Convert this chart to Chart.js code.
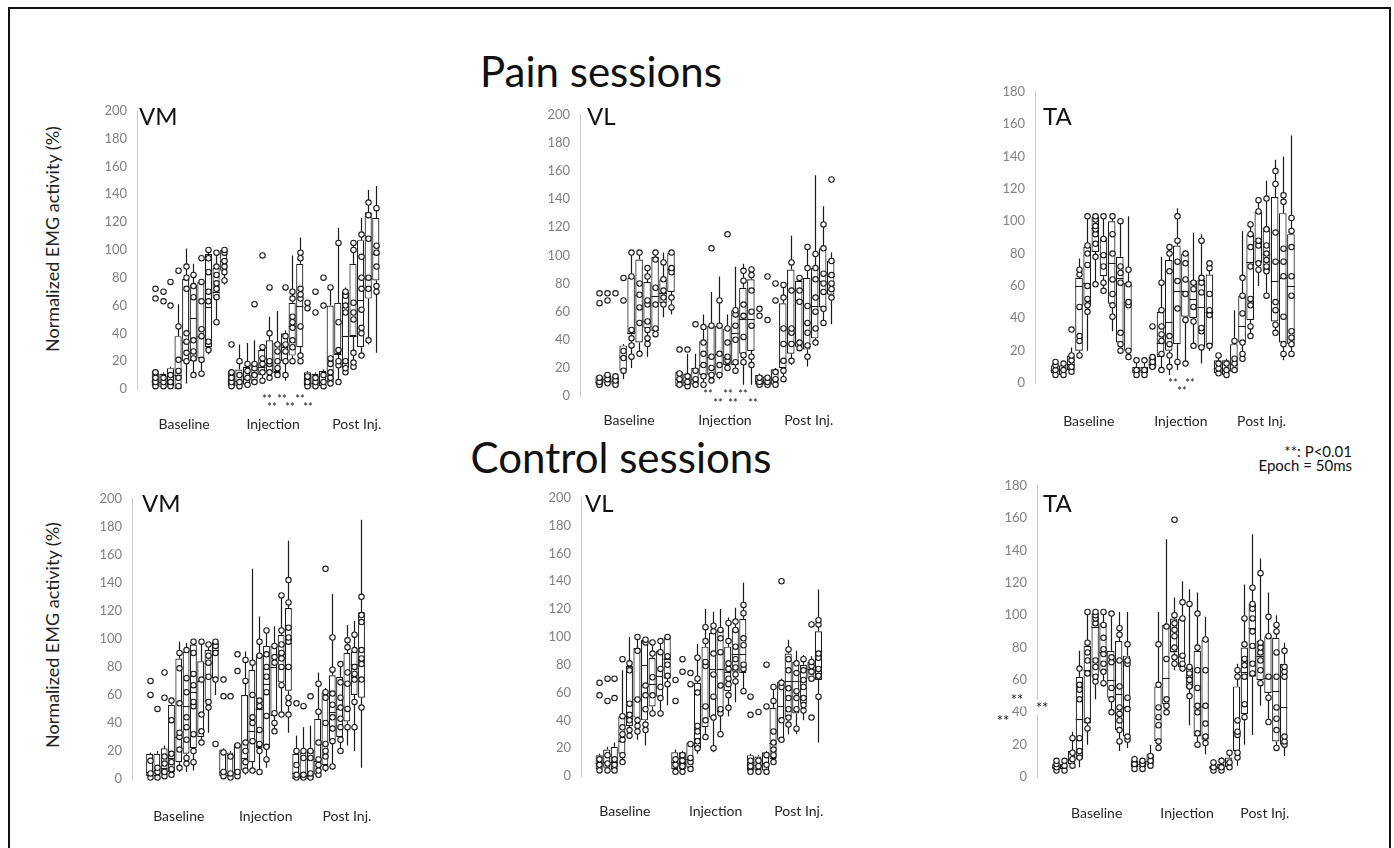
<!DOCTYPE html>
<html>
<head>
<meta charset="utf-8">
<script src="https://cdn.jsdelivr.net/npm/chart.js@4.4.0/dist/chart.umd.min.js"></script>
<style>
  body { margin: 0; width: 1394px; height: 848px; overflow: hidden; background: #fff; font-family: Lato, "Open Sans", sans-serif; }
  #frame { position: absolute; left: 8px; top: 7px; width: 1379px; height: 870px; border: 2px solid #111; }
  canvas { position: absolute; }
  .txt { position: absolute; white-space: nowrap; color: #111; line-height: 1; }
  .title { font-size: 42px; text-align: center; }
  .muscle { font-size: 24px; }
  .ytitle { font-size: 18px; transform: translate(-50%, -50%) rotate(-90deg); color: #222; }
  .stars { font-size: 11px; transform: translate(-50%, -50%); }
  .bigstars { font-size: 15px; transform: translate(-50%, -50%); background: #fff; }
  .note { font-size: 15px; text-align: right; right: 42px; }
</style>
</head>
<body>
<div id="frame"></div>

<div class="txt title" style="left:0;width:1202px;top:50px">Pain sessions</div>
<div class="txt title" style="left:0;width:1242px;top:436px">Control sessions</div>

<div class="txt ytitle" style="left:52px;top:239px">Normalized EMG activity (%)</div>
<div class="txt ytitle" style="left:52px;top:635px">Normalized EMG activity (%)</div>

<div class="txt note" style="top:444px">**: P&lt;0.01</div>
<div class="txt note" style="top:458px">Epoch = 50ms</div>

<canvas id="painVM"></canvas>
<canvas id="painVL"></canvas>
<canvas id="painTA"></canvas>
<canvas id="ctrlVM"></canvas>
<canvas id="ctrlVL"></canvas>
<canvas id="ctrlTA"></canvas>

<div class="txt muscle" style="left:139px;top:104px">VM</div>
<div class="txt muscle" style="left:587px;top:104px">VL</div>
<div class="txt muscle" style="left:1043px;top:104px">TA</div>
<div class="txt muscle" style="left:142px;top:491px">VM</div>
<div class="txt muscle" style="left:585px;top:491px">VL</div>
<div class="txt muscle" style="left:1043px;top:491px">TA</div>

<script>
// 30 boxes per panel: Baseline epochs 1-10, Injection 1-10, Post Inj. 1-10
const groupNames = ['Baseline', 'Injection', 'Post Inj.'];

// ---- Pain sessions, VM ----
const painVM_low  = [1,1,1,0,4,9,11,25,48,75, 1,1,2,3,5,7,8,6,19,18, 1,1,1,3,5,11,15,24,32,26];
const painVM_q1   = [2,1,2,0,20,20,22,30,65,85, 2,2,3,4,10,12,12,20,24,30, 2,1,2,5,25,15,38,30,65,78];
const painVM_med  = [6,5,6,10,34,51,38,59,70,92, 6,6,7,10,16,17,12,30,45,60, 5,4,5,12,25,38,38,64,80,97];
const painVM_q3   = [13,11,15,38,79,75,77,97,87,100, 13,14,16,18,28,35,33,40,62,90, 12,11,13,60,62,70,90,107,127,123];
const painVM_high = [14,12,16,61,101,90,78,100,100,100, 14,32,33,35,32,52,56,42,96,109, 13,12,14,73,116,73,107,123,143,146];
const painVM_pts  = [
  [2,5,8,12,65,72],[2,5,8,63,70],[2,5,10,60,77],[2,8,13,21,45,85],[20,26,34,40,72,80,88],
  [10,22,27,35,66,74,82],[11,21,38,43,63,77,94],[28,34,63,70,84,94,100],[48,66,72,76,82,88,98],[78,84,88,92,98,100],
  [2,5,8,12,32],[2,5,10,20],[3,8,13,18],[5,10,15,18,61],[6,12,18,22,30,96],
  [8,12,18,20,40,73],[10,15,20,27,32],[10,20,27,32,38,73],[20,30,35,44,48,52,65,70],[20,24,45,65,68,72,94,98],
  [2,5,9,58,62],[2,5,8,55,70],[2,5,10,60,80],[4,8,12,18,22,73],[5,17,20,28,48,105],
  [12,15,20,55,60,67,70],[16,19,26,50,55,62,100,105],[24,40,44,57,72,80,95,111],[35,72,80,108,125,134],[70,74,88,98,103,130]
];

// ---- Pain sessions, VL ----
const painVL_low  = [7,8,7,12,20,30,28,42,56,58, 7,7,7,7,10,12,18,18,8,8, 7,7,7,10,22,33,21,36,51,51];
const painVL_q1   = [8,9,8,18,44,38,48,46,66,74, 7,7,8,15,15,15,22,22,30,32, 8,8,8,20,30,35,33,41,63,72];
const painVL_med  = [10,12,11,28,45,72,53,71,73,90, 12,10,12,22,28,30,28,45,55,55, 11,10,12,25,45,68,52,64,82,85];
const painVL_q3   = [14,15,14,36,84,97,81,99,83,102, 17,16,20,39,50,50,48,61,77,83, 15,14,19,66,90,82,84,91,105,96];
const painVL_high = [15,16,15,37,102,102,90,102,102,102, 18,30,30,58,74,85,58,92,94,92, 16,15,20,79,114,85,106,157,135,102];
const painVL_pts  = [
  [8,10,13,66,73],[9,12,15,68,73],[8,11,14,73],[18,27,32,68,84],[28,36,41,47,85,102],
  [30,52,63,72,80,102],[37,41,47,53,65,68,85,91],[44,48,65,77,97,102],[65,70,75,83,95],[63,70,88,91,102],
  [8,12,16,33],[7,10,14,33],[8,12,18,51],[8,14,22,30,38,49],[11,15,20,28,50,105],
  [15,22,30,50,68],[20,25,28,38,48,115],[18,24,40,50,58,61],[24,29,42,57,65,82,89],[22,28,50,60,75,86,90],
  [8,10,13,57,62],[8,10,13,54,85],[8,12,17,68,80],[12,18,25,37,48,70,79],[25,37,45,48,75,95],
  [34,38,67,75,84],[28,36,45,52,64,91,106],[38,48,60,70,83,91,101],[52,62,74,80,87,105,122],[70,76,80,86,96,154]
];

// ---- Pain sessions, TA ----
const painTA_low  = [5,5,6,15,20,60,57,32,20,16, 5,5,8,7,5,8,12,22,12,20, 5,4,6,13,28,60,54,30,14,17];
const painTA_q1   = [6,5,8,20,48,81,66,49,25,20, 6,6,9,16,20,24,41,40,22,23, 6,5,7,25,39,74,69,38,25,24];
const painTA_med  = [8,8,12,60,62,96,80,74,65,50, 8,8,12,25,38,57,57,52,47,44, 9,8,12,35,75,88,80,63,65,60];
const painTA_q3   = [11,11,17,65,84,103,90,100,78,62, 10,10,16,44,76,85,80,63,64,67, 14,14,24,54,92,106,96,115,105,92];
const painTA_high = [13,12,22,77,103,103,103,103,101,103, 15,15,18,78,86,108,82,93,92,75, 17,15,45,94,100,113,125,138,140,153];
const painTA_pts  = [
  [5,8,11,13],[5,8,12],[7,10,14,17,33],[17,26,29,47,67,70],[44,48,52,60,73,80,85,103],
  [61,78,86,92,95,97,101,103],[57,62,72,79,89,103],[41,48,55,64,80,92,103],[20,24,31,62,68,72,100],[16,20,48,50,61,70],
  [5,8,14],[5,8,14],[10,13,16,35],[8,18,26,30,35,45,62],[10,17,24,29,69,80,84],
  [13,46,63,75,88,103],[12,39,55,64,74,80],[23,38,47,58,62],[22,32,34,56,62,65,88],[23,42,45,55,71,74],
  [6,9,12,17],[5,8,12],[8,12,15,26],[15,18,25,43,54,65],[29,35,48,52,72,84,92,98],
  [70,74,85,88,106,113],[54,69,72,76,80,85,95,114],[31,36,45,50,75,93,123,131],[18,24,41,66,75,83,112,116],[18,24,28,32,54,66,84,94,102]
];

// ---- Control sessions, VM ----
const ctrlVM_low  = [0,0,0,2,5,5,6,25,33,60, 0,0,0,3,5,5,8,33,45,33, 0,0,0,2,5,8,20,24,20,8];
const ctrlVM_q1   = [2,2,3,5,12,18,22,30,55,72, 2,2,3,6,12,22,22,45,69,63, 0,0,0,3,10,27,30,41,60,58];
const ctrlVM_med  = [5,6,8,15,30,52,62,70,83,92, 5,4,5,15,34,50,68,80,89,100, 4,3,4,13,25,48,50,68,82,85];
const ctrlVM_q3   = [18,18,22,53,86,91,96,84,92,98, 21,19,25,60,78,89,95,95,103,122, 18,19,21,43,62,74,73,90,91,119];
const ctrlVM_high = [19,20,24,58,98,97,98,98,96,99, 22,20,26,91,150,116,106,109,131,170, 31,37,38,76,65,132,80,110,113,185];
const ctrlVM_pts  = [
  [1,4,13,60,70],[1,5,8,50],[2,5,11,16,58,76],[3,7,12,18,42,56],[8,21,30,33,54,79,90],
  [11,15,28,37,44,62,72,92],[12,20,32,52,55,67,75,90,98],[26,34,46,71,98],[51,55,73,83,88,96],[25,71,90,95,98],
  [2,5,19,59,71],[1,4,16,59],[2,5,24,77,89],[6,12,20,26,70,85],[6,27,40,44,60,83],
  [5,20,25,35,52,56,88,98],[14,23,45,62,73,80,89,106],[34,40,47,83,87,95],[46,67,80,86,90,96,106,131],[46,54,58,80,98,101,108,126,142],
  [1,3,10,20,54],[1,3,15,20,52],[1,4,15,20,59],[3,6,10,14,26,48,68],[8,16,20,25,40,58,62,150],
  [9,27,36,44,53,61,78,101],[20,28,37,43,51,58,69,82],[37,50,68,76,94,99],[37,55,71,75,80,92,103],[51,71,82,86,92,112,117,130]
];

// ---- Control sessions, VL ----
const ctrlVL_low  = [3,3,3,10,30,26,22,44,44,51, 3,3,4,16,26,17,31,43,53,61, 3,3,3,9,26,30,30,40,68,24];
const ctrlVL_q1   = [5,6,5,16,36,42,40,50,57,70, 5,5,6,20,35,42,46,61,75,74, 4,4,4,12,26,42,45,52,70,69];
const ctrlVL_med  = [9,10,10,25,52,55,80,66,72,84, 10,9,12,27,50,77,77,75,88,88, 8,8,9,24,50,68,68,68,77,77];
const ctrlVL_q3   = [15,19,21,43,79,92,98,85,90,100, 17,17,24,67,93,103,105,93,106,113, 15,14,17,49,68,88,82,80,82,104];
const ctrlVL_high = [16,21,24,76,100,100,99,97,98,100, 19,18,25,95,120,118,120,114,121,139, 16,15,18,65,70,98,90,87,86,134];
const ctrlVL_pts  = [
  [4,8,12,58,67],[4,9,15,54,70],[4,8,12,56,70],[10,15,26,30,35,43,84],[29,33,40,44,52,76,81],
  [32,36,40,55,90,100],[33,37,48,58,65,96,98],[45,58,71,88,96],[45,56,64,77,89,97],[66,72,80,86,100],
  [3,8,12,54,69],[3,7,11,15,75,84],[5,10,13,23,66,74],[20,25,32,36,60,70,85],[28,40,50,79,82,97,107],
  [20,42,57,73,88,104,108],[30,45,48,65,89,99,105],[49,58,66,70,77,81,97,110],[68,73,78,84,93,105,111],[61,77,80,94,99,117,123],
  [3,7,11,44,57],[3,7,11,46],[3,8,15,50,80],[10,15,19,24,32,54,64],[26,40,64,67,140],
  [37,42,48,56,63,76,84,91],[34,48,56,61,74,81],[47,51,56,64,69,76,84],[42,70,75,79,82,109],[57,72,77,85,88,109,112]
];

// ---- Control sessions, TA ----
const ctrlTA_low  = [4,4,6,6,20,48,56,40,16,18, 4,4,6,17,40,66,65,32,20,14, 4,4,5,7,20,26,44,33,16,13];
const ctrlTA_q1   = [5,5,8,11,33,62,65,49,29,25, 6,6,7,23,45,77,68,55,25,23, 5,5,6,16,39,62,60,52,22,20];
const ctrlTA_med  = [6,7,11,36,66,93,77,60,51,43, 8,8,10,23,61,78,75,62,44,44, 6,6,9,28,65,92,75,61,53,43];
const ctrlTA_q3   = [8,8,16,62,81,101,95,78,84,75, 10,10,14,56,94,98,98,68,78,85, 7,8,12,56,80,107,84,87,86,70];
const ctrlTA_high = [10,11,28,78,102,102,102,102,102,102, 12,11,20,102,147,111,121,116,114,99, 11,12,16,70,119,150,135,114,100,83];
const ctrlTA_pts  = [
  [4,6,8,10],[4,7,10],[7,11,15,24],[12,16,24,48,54,57,67],[30,35,64,72,77,83,102],
  [59,62,68,72,95,98,100,102],[58,65,70,76,79,86,94,102],[40,48,55,71,74,101],[22,29,35,39,43,56,72,88,92],[23,25,42,49,70,72,82],
  [5,8,11],[5,8,10],[7,10,13],[18,22,32,37,43,57,82],[40,44,48,73,93],
  [70,74,80,87,91,95,100,159],[67,70,75,98,108],[50,56,60,64,68,107],[20,27,40,44,55,66,80,101],[21,25,33,44,66,85],
  [4,6,9],[4,6,10],[6,9,15],[12,15,26,28,35,62,66],[37,45,62,69,73,82,98],
  [64,70,81,90,98,104,107,117],[58,66,72,77,80,83,126],[34,49,62,87,99],[18,29,36,43,62,77,90,94],[20,22,25,62,65,68,78]
];

// layout of each panel: plot area in page pixels, y range, where the group labels sit
const panels = [
  { id: 'painVM', low: painVM_low, q1: painVM_q1, med: painVM_med, q3: painVM_q3, high: painVM_high, pts: painVM_pts,
    area: { l: 137, r: 403, t: 106.7, b: 389 }, yMax: 200, labelAt: [3.8, 15.5, 26.5], labelPad: 27 },
  { id: 'painVL', low: painVL_low, q1: painVL_q1, med: painVL_med, q3: painVL_q3, high: painVL_high, pts: painVL_pts,
    area: { l: 580, r: 844, t: 110.7, b: 395.7 }, yMax: 200, labelAt: [3.75, 15.75, 26.25], labelPad: 16 },
  { id: 'painTA', low: painTA_low, q1: painTA_q1, med: painTA_med, q3: painTA_q3, high: painTA_high, pts: painTA_pts,
    area: { l: 1035, r: 1311, t: 88.3, b: 383.3 }, yMax: 180, labelAt: [4.2, 15.5, 25.4], labelPad: 30 },
  { id: 'ctrlVM', low: ctrlVM_low, q1: ctrlVM_q1, med: ctrlVM_med, q3: ctrlVM_q3, high: ctrlVM_high, pts: ctrlVM_pts,
    area: { l: 132, r: 395, t: 495, b: 779 }, yMax: 200, labelAt: [4.0, 15.9, 27.0], labelPad: 29 },
  { id: 'ctrlVL', low: ctrlVL_low, q1: ctrlVL_q1, med: ctrlVL_med, q3: ctrlVL_q3, high: ctrlVL_high, pts: ctrlVL_pts,
    area: { l: 581, r: 845, t: 494, b: 775.7 }, yMax: 200, labelAt: [3.4, 15.4, 26.4], labelPad: 27 },
  { id: 'ctrlTA', low: ctrlTA_low, q1: ctrlTA_q1, med: ctrlTA_med, q3: ctrlTA_q3, high: ctrlTA_high, pts: ctrlTA_pts,
    area: { l: 1037, r: 1312, t: 481.7, b: 776.7 }, yMax: 180, labelAt: [5.2, 16.7, 26.6], labelPad: 28 }
];

// significance marks (page pixels, centre)
const stars = [
  [267, 398, 'stars'], [282, 398, 'stars'], [300, 398, 'stars'], [272, 406, 'stars'], [290, 406, 'stars'], [308, 406, 'stars'],
  [708, 393, 'stars'], [728, 393, 'stars'], [743, 393, 'stars'], [718, 402, 'stars'], [733, 402, 'stars'], [753, 402, 'stars'],
  [1173, 382, 'stars'], [1190, 382, 'stars'], [1182, 390, 'stars'],
  [1017, 699, 'bigstars'], [1042, 707, 'bigstars'], [1003, 720, 'bigstars']
];

const LINE = '#1a1a1a';
const YW = 50, PT = 14, PR = 6, XH = 60;

// whiskers behind the boxes, medians and data points on top
const boxPlugin = {
  id: 'boxPlot',
  beforeDatasetsDraw(chart) {
    const ds = chart.data.datasets[0];
    const y = chart.scales.y;
    const ctx = chart.ctx;
    ctx.save();
    ctx.strokeStyle = LINE;
    ctx.lineWidth = 1.2;
    chart.getDatasetMeta(0).data.forEach((bar, i) => {
      const x = Math.round(bar.x) + 0.5;
      ctx.beginPath();
      ctx.moveTo(x, y.getPixelForValue(ds.high[i]));
      ctx.lineTo(x, y.getPixelForValue(ds.q3[i]));
      ctx.moveTo(x, y.getPixelForValue(ds.q1[i]));
      ctx.lineTo(x, y.getPixelForValue(ds.low[i]));
      ctx.stroke();
    });
    ctx.restore();
  },
  afterDatasetsDraw(chart) {
    const ds = chart.data.datasets[0];
    const y = chart.scales.y;
    const ctx = chart.ctx;
    ctx.save();
    ctx.strokeStyle = LINE;
    ctx.lineWidth = 1.1;
    chart.getDatasetMeta(0).data.forEach((bar, i) => {
      const half = bar.width / 2;
      const ym = Math.round(y.getPixelForValue(ds.med[i])) + 0.5;
      ctx.beginPath();
      ctx.moveTo(bar.x - half, ym);
      ctx.lineTo(bar.x + half, ym);
      ctx.stroke();
      ds.pts[i].forEach(v => {
        ctx.beginPath();
        ctx.arc(Math.round(bar.x) + 0.5, y.getPixelForValue(v), 2.7, 0, Math.PI * 2);
        ctx.fillStyle = '#fff';
        ctx.fill();
        ctx.stroke();
      });
    });
    ctx.restore();
  }
};

function makeChart(p) {
  const canvas = document.getElementById(p.id);
  const a = p.area;
  const w = Math.round(a.r - a.l + YW + PR);
  const h = Math.round(a.b - a.t + PT + XH);
  canvas.width = w;
  canvas.height = h;
  canvas.style.width = w + 'px';
  canvas.style.height = h + 'px';
  canvas.style.left = (a.l - YW) + 'px';
  canvas.style.top = (a.t - PT) + 'px';

  new Chart(canvas, {
    type: 'bar',
    data: {
      datasets: [{
        data: p.q1.map((v, i) => ({ x: i, y: [v, p.q3[i]] })),
        backgroundColor: '#fff',
        borderColor: LINE,
        borderWidth: 1.2,
        borderSkipped: false,
        barPercentage: 0.94,
        categoryPercentage: 1,
        low: p.low, q1: p.q1, med: p.med, q3: p.q3, high: p.high, pts: p.pts
      }]
    },
    options: {
      responsive: false,
      animation: false,
      devicePixelRatio: 1,
      layout: { padding: { top: PT, right: PR, left: 0, bottom: 0 } },
      plugins: { legend: { display: false }, tooltip: { enabled: false } },
      scales: {
        x: {
          type: 'linear',
          offset: false,
          min: -2.4,
          max: 30.6,
          grid: { display: false, drawTicks: false, offset: false },
          border: { display: false },
          afterBuildTicks: s => { s.ticks = p.labelAt.map(v => ({ value: v })); },
          afterFit: s => { s.height = XH; },
          ticks: {
            autoSkip: false,
            maxRotation: 0,
            padding: p.labelPad,
            color: '#262626',
            font: { family: 'Lato', size: 14 },
            callback: (v, i) => groupNames[i]
          }
        },
        y: {
          min: 0,
          max: p.yMax,
          grid: { display: false, drawTicks: false },
          border: { display: true, color: '#c8c8c8', width: 1 },
          afterFit: s => { s.width = YW; },
          ticks: {
            stepSize: 20,
            padding: 10,
            color: '#808080',
            font: { family: 'Lato', size: 13 }
          }
        }
      }
    },
    plugins: [boxPlugin]
  });
}

panels.forEach(makeChart);

stars.forEach(([x, y, cls]) => {
  const d = document.createElement('div');
  d.className = 'txt ' + cls;
  d.style.left = x + 'px';
  d.style.top = y + 'px';
  d.textContent = '**';
  document.body.appendChild(d);
});
</script>
</body>
</html>
